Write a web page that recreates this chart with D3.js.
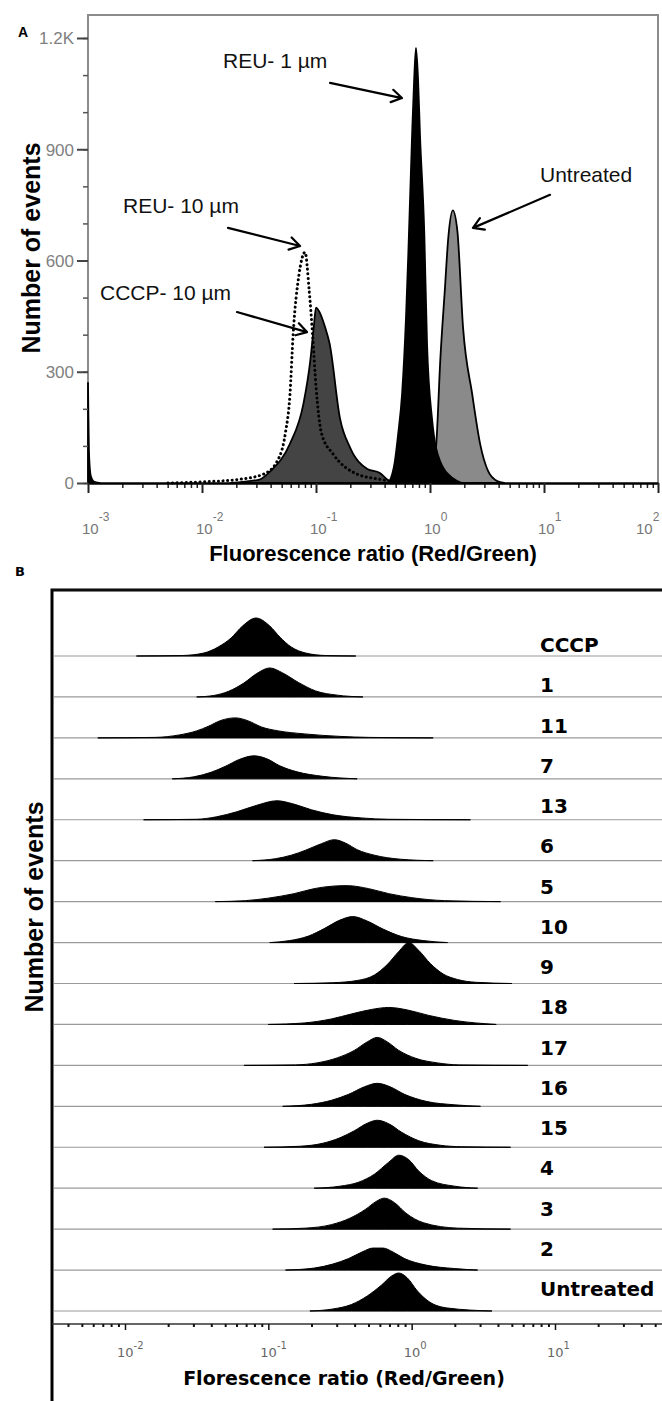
<!DOCTYPE html>
<html>
<head>
<meta charset="utf-8">
<script src="https://cdn.jsdelivr.net/npm/d3@7"></script>
<style>
body { margin: 0; background: #fff; }
svg { display: block; }
</style>
</head>
<body>
<svg id="fig" width="662" height="1401"></svg>
<script>
// ---- panel A: histograms, [log10 ratio, number of events]
const debrisA = [[-3, 270], [-2.99, 70], [-2.975, 18], [-2.95, 4], [-2.9, 0]]
const reu10A = [[-2.3, 0], [-2.0, 3], [-1.67, 10], [-1.46, 24], [-1.34, 59], [-1.27, 132], [-1.228, 240],
    [-1.2, 403], [-1.15, 560], [-1.096, 622], [-1.06, 520], [-1.03, 400], [-1.0, 260], [-0.95, 132],
    [-0.85, 78], [-0.64, 24], [-0.44, 10], [-0.3, 3], [-0.1, 0]]
const cccpA = [[-1.75, 0], [-1.49, 10], [-1.4, 32], [-1.23, 105], [-1.11, 214], [-1.05, 330], [-1.02, 419],
    [-1.0, 473], [-0.96, 455], [-0.92, 420], [-0.88, 375], [-0.79, 175], [-0.70, 95], [-0.55, 38],
    [-0.44, 27], [-0.37, 8], [-0.3, 0]]
const untreatedA = [[-0.02, 0], [0.03, 20], [0.06, 130], [0.09, 330], [0.13, 520], [0.16, 660], [0.2, 735],
    [0.24, 680], [0.29, 419], [0.37, 240], [0.44, 105], [0.51, 32], [0.59, 5], [0.65, 0]]
const reu1A = [[-0.36, 0], [-0.31, 55], [-0.28, 130], [-0.245, 240], [-0.21, 450], [-0.19, 620], [-0.158, 930],
    [-0.14, 1080], [-0.123, 1173], [-0.105, 1090], [-0.088, 940], [-0.05, 673], [-0.026, 375],
    [0.017, 175], [0.088, 59], [0.2, 13], [0.28, 0]]
const yTicksA = [0, 300, 600, 900, 1200]
const decadesA = [-3, -2, -1, 0, 1, 2]

// ---- panel B: one histogram per treatment, [log10 ratio, events]
const rowNames = ["CCCP", "1", "11", "7", "13", "6", "5", "10", "9", "18", "17", "16", "15", "4", "3", "2", "Untreated"]
const rowCurves = [
    [[-1.92, 0], [-1.6, 5], [-1.45, 30], [-1.35, 90], [-1.26, 180], [-1.18, 300], [-1.086, 380], [-0.99, 300], [-0.92, 190], [-0.84, 90], [-0.74, 30], [-0.6, 5], [-0.39, 0]],
    [[-1.50, 0], [-1.38, 15], [-1.28, 55], [-1.17, 140], [-1.08, 235], [-0.99, 290], [-0.90, 240], [-0.79, 145], [-0.67, 60], [-0.52, 18], [-0.34, 0]],
    [[-2.19, 0], [-1.79, 5], [-1.62, 30], [-1.50, 70], [-1.42, 115], [-1.33, 175], [-1.23, 200], [-1.14, 170], [-1.05, 110], [-0.93, 70], [-0.75, 40], [-0.5, 15], [-0.3, 5], [0.15, 0]],
    [[-1.67, 0], [-1.52, 20], [-1.40, 65], [-1.30, 125], [-1.20, 195], [-1.10, 230], [-1.01, 200], [-0.92, 130], [-0.80, 70], [-0.62, 25], [-0.38, 0]],
    [[-1.87, 0], [-1.50, 5], [-1.36, 30], [-1.22, 80], [-1.08, 145], [-0.94, 190], [-0.83, 160], [-0.70, 100], [-0.55, 50], [-0.35, 18], [-0.16, 5], [0.41, 0]],
    [[-1.11, 0], [-0.95, 20], [-0.84, 55], [-0.74, 105], [-0.63, 170], [-0.54, 210], [-0.46, 175], [-0.38, 110], [-0.26, 55], [-0.08, 15], [0.15, 0]],
    [[-1.37, 0], [-1.16, 10], [-1.00, 35], [-0.82, 80], [-0.68, 130], [-0.55, 155], [-0.45, 160], [-0.30, 130], [-0.16, 80], [0.0, 40], [0.23, 10], [0.62, 0]],
    [[-0.99, 0], [-0.85, 20], [-0.72, 65], [-0.61, 140], [-0.50, 225], [-0.41, 260], [-0.31, 215], [-0.20, 135], [-0.07, 60], [0.08, 20], [0.25, 0]],
    [[-0.82, 0], [-0.55, 8], [-0.38, 30], [-0.26, 85], [-0.17, 190], [-0.09, 320], [-0.02, 410], [0.05, 330], [0.13, 200], [0.22, 95], [0.32, 40], [0.45, 12], [0.70, 0]],
    [[-1.00, 0], [-0.75, 15], [-0.56, 55], [-0.42, 105], [-0.28, 150], [-0.16, 170], [-0.03, 145], [0.12, 90], [0.30, 40], [0.59, 0]],
    [[-1.17, 0], [-0.81, 5], [-0.66, 25], [-0.52, 75], [-0.40, 150], [-0.31, 235], [-0.24, 280], [-0.17, 235], [-0.09, 150], [0.03, 70], [0.18, 25], [0.33, 5], [0.81, 0]],
    [[-0.90, 0], [-0.70, 20], [-0.56, 60], [-0.44, 120], [-0.33, 195], [-0.24, 230], [-0.15, 195], [-0.05, 120], [0.10, 50], [0.30, 15], [0.48, 0]],
    [[-1.03, 0], [-0.78, 10], [-0.62, 40], [-0.50, 95], [-0.40, 165], [-0.31, 240], [-0.24, 270], [-0.16, 235], [-0.07, 150], [0.05, 65], [0.20, 20], [0.35, 5], [0.69, 0]],
    [[-0.68, 0], [-0.50, 20], [-0.37, 60], [-0.26, 140], [-0.16, 260], [-0.09, 330], [-0.02, 285], [0.05, 170], [0.14, 75], [0.30, 20], [0.46, 0]],
    [[-0.97, 0], [-0.74, 10], [-0.56, 45], [-0.43, 110], [-0.32, 200], [-0.25, 275], [-0.19, 310], [-0.12, 265], [-0.04, 160], [0.08, 65], [0.32, 10], [0.69, 0]],
    [[-0.88, 0], [-0.68, 20], [-0.55, 60], [-0.44, 115], [-0.34, 185], [-0.27, 220], [-0.20, 220], [-0.13, 180], [-0.05, 115], [0.10, 50], [0.30, 15], [0.46, 0]],
    [[-0.71, 0], [-0.55, 20], [-0.42, 65], [-0.31, 150], [-0.21, 260], [-0.14, 350], [-0.09, 380], [-0.03, 330], [0.04, 200], [0.12, 95], [0.25, 30], [0.56, 0]]
]
const decadesB = [-2, -1, 0, 1]

const svg = d3.select("#fig")
const pow10 = (e) => Math.pow(10, e)
const supText = (d) => d < 0 ? "-" + (-d) : "" + d

// ================= panel A =================
const xA = d3.scaleLog().domain([1e-3, 1e2]).range([88, 658])
const yA = d3.scaleLinear().domain([0, 1200]).range([483, 38])

var areaA = d3.area()
    .x((d) => xA(pow10(d[0])))
    .y0(yA(0))
    .y1((d) => yA(d[1]))
    .curve(d3.curveMonotoneX)

var lineA = d3.line()
    .x((d) => xA(pow10(d[0])))
    .y((d) => yA(d[1]))
    .curve(d3.curveMonotoneX)

// frame
svg.append("path")
    .attr("d", "M88,483V15H658V483")
    .attr("fill", "none")
    .attr("stroke", "#8c8c8c")
    .attr("stroke-width", 2)

var fills = [
    {pts: debrisA, fill: "#000"},
    {pts: cccpA, fill: "#444"},
    {pts: untreatedA, fill: "#8a8a8a"},
    {pts: reu1A, fill: "#000"}
]
svg.selectAll("path.histA")
    .data(fills)
    .join("path")
    .classed("histA", true)
    .attr("d", (d) => areaA(d.pts))
    .attr("fill", (d) => d.fill)
    .attr("stroke", "#000")
    .attr("stroke-width", 1.8)
    .attr("stroke-linejoin", "round")

svg.append("path")
    .attr("d", lineA(reu10A))
    .attr("fill", "none")
    .attr("stroke", "#000")
    .attr("stroke-width", 3)
    .attr("stroke-linecap", "round")
    .attr("stroke-dasharray", "0.1,4.5")

// y axis
var minorY = d3.range(0, 1201, 100)
svg.append("g")
    .attr("transform", "translate(88,0)")
    .call(d3.axisLeft(yA).tickValues(minorY).tickSize(5).tickSizeOuter(0).tickFormat(""))
    .call((g) => g.select(".domain").remove())
    .selectAll("line").attr("stroke", "#555").attr("stroke-width", 1.5)

var yAxisA = svg.append("g")
    .attr("transform", "translate(88,0)")
    .call(d3.axisLeft(yA).tickValues(yTicksA).tickSize(11).tickSizeOuter(0)
        .tickFormat((d) => d >= 1000 ? (d / 1000).toFixed(1) + "K" : d))
yAxisA.select(".domain").remove()
yAxisA.selectAll("line").attr("stroke", "#444").attr("stroke-width", 2)
yAxisA.selectAll("text")
    .attr("font-family", "Liberation Sans, Arial, sans-serif")
    .attr("font-size", 17)
    .attr("fill", "#808080")
    .attr("x", -14)
    .attr("dy", "0.35em")

// x axis
var minorX = []
decadesA.slice(0, -1).forEach((e) => {
    for (let k = 2; k < 10; k++) minorX.push(k * pow10(e))
})
svg.append("g")
    .attr("transform", "translate(0,483)")
    .call(d3.axisBottom(xA).tickValues(minorX).tickSize(5).tickSizeOuter(0).tickFormat(""))
    .call((g) => g.select(".domain").remove())
    .selectAll("line").attr("stroke", "#222").attr("stroke-width", 1.5)
svg.append("g")
    .attr("transform", "translate(0,483)")
    .call(d3.axisBottom(xA).tickValues(decadesA.map(pow10)).tickSize(10).tickSizeOuter(0).tickFormat(""))
    .call((g) => g.select(".domain").attr("stroke", "#000").attr("stroke-width", 2.5))
    .selectAll("line").attr("stroke", "#222").attr("stroke-width", 2)

var tickLabA = svg.selectAll("text.xlabA")
    .data(decadesA)
    .join("text")
    .classed("xlabA", true)
    .attr("x", (d) => Math.min(xA(pow10(d)) - 6, 636))
    .attr("y", 534)
    .attr("font-family", "Liberation Sans, Arial, sans-serif")
    .attr("font-size", 15)
    .attr("fill", "#777")
tickLabA.append("tspan").text("10")
tickLabA.append("tspan").attr("dy", -13).attr("font-size", 12).text(supText)

svg.append("text")
    .attr("x", 373)
    .attr("y", 561)
    .attr("text-anchor", "middle")
    .attr("font-family", "Liberation Sans, Arial, sans-serif")
    .attr("font-weight", "bold")
    .attr("font-size", 22)
    .text("Fluorescence ratio (Red/Green)")

svg.append("text")
    .attr("transform", "translate(40,248) rotate(-90)")
    .attr("text-anchor", "middle")
    .attr("font-family", "Liberation Sans, Arial, sans-serif")
    .attr("font-weight", "bold")
    .attr("font-size", 25)
    .text("Number of events")

svg.append("text")
    .attr("x", 18).attr("y", 37)
    .attr("font-family", "Liberation Sans, Arial, sans-serif")
    .attr("font-weight", "bold")
    .attr("font-size", 14)
    .text("A")

// annotations, placed in data coordinates: text at t, arrow from a to b
var notes = [
    {label: "REU- 1 \u00b5m", t: [-1.816, 1119], a: [-0.877, 1079], b: [-0.246, 1038]},
    {label: "Untreated", t: [0.965, 812], a: [1.053, 777], b: [0.377, 688]},
    {label: "REU- 10 \u00b5m", t: [-2.693, 728], a: [-1.772, 688], b: [-1.14, 639]},
    {label: "CCCP- 10 \u00b5m", t: [-2.895, 494], a: [-1.693, 461], b: [-1.079, 407]}
]
var px = (p) => [xA(pow10(p[0])), yA(p[1])]
var arrowPath = function(d) {
    const [x1, y1] = px(d.a)
    const [x2, y2] = px(d.b)
    const ang = Math.atan2(y2 - y1, x2 - x1)
    const L = 12, w = 0.55
    return "M" + x1 + "," + y1 + "L" + x2 + "," + y2 +
        "M" + (x2 - L * Math.cos(ang - w)) + "," + (y2 - L * Math.sin(ang - w)) +
        "L" + x2 + "," + y2 +
        "L" + (x2 - L * Math.cos(ang + w)) + "," + (y2 - L * Math.sin(ang + w))
}
svg.selectAll("text.note")
    .data(notes)
    .join("text")
    .classed("note", true)
    .attr("x", (d) => px(d.t)[0])
    .attr("y", (d) => px(d.t)[1])
    .attr("font-family", "Liberation Sans, Arial, sans-serif")
    .attr("font-size", 21)
    .attr("fill", "#111")
    .text((d) => d.label)
svg.selectAll("path.arrow")
    .data(notes)
    .join("path")
    .classed("arrow", true)
    .attr("d", arrowPath)
    .attr("fill", "none")
    .attr("stroke", "#000")
    .attr("stroke-width", 2.2)
    .attr("stroke-linecap", "round")
    .attr("stroke-linejoin", "round")

// ================= panel B =================
const xB = d3.scaleLog().domain([1e-2, 1e1]).range([125, 555])
const baseB = d3.scalePoint().domain(rowNames).range([656, 1311])
const labelB = d3.scalePoint().domain(rowNames).range([652, 1296])
const hB = d3.scaleLinear().domain([0, 410]).range([0, 41])
const leftB = 52, rightB = 662, axisY = 1324

svg.append("path")
    .attr("d", "M" + rightB + ",590H" + leftB + "V1401")
    .attr("fill", "none")
    .attr("stroke", "#000")
    .attr("stroke-width", 3)
svg.append("line")
    .attr("x1", leftB).attr("x2", rightB).attr("y1", 590).attr("y2", 590)
    .attr("stroke", "#111").attr("stroke-width", 1.5)

var rows = svg.selectAll("g.row")
    .data(rowNames.map((name, i) => ({name: name, pts: rowCurves[i]})))
    .join("g")
    .classed("row", true)

rows.append("line")
    .attr("x1", leftB + 2).attr("x2", rightB)
    .attr("y1", (d) => baseB(d.name)).attr("y2", (d) => baseB(d.name))
    .attr("stroke", "#9a9a9a").attr("stroke-width", 1.2)

rows.append("path")
    .attr("d", (d) => {
        const base = baseB(d.name)
        return d3.area()
            .x((p) => xB(pow10(p[0])))
            .y0(base)
            .y1((p) => base - hB(p[1]))
            .curve(d3.curveMonotoneX)(d.pts)
    })
    .attr("fill", "#000")
    .attr("stroke", "#000")
    .attr("stroke-width", 1)

rows.append("text")
    .attr("x", 540)
    .attr("y", (d) => labelB(d.name))
    .attr("font-family", "DejaVu Sans, Verdana, sans-serif")
    .attr("font-weight", "bold")
    .attr("font-size", 20)
    .text((d) => d.name)

// x axis B
svg.append("line")
    .attr("x1", leftB).attr("x2", rightB).attr("y1", axisY).attr("y2", axisY)
    .attr("stroke", "#333").attr("stroke-width", 1.5)

var lo = xB.invert(leftB + 4), hi = xB.invert(rightB - 2)
var minorB = []
for (let e = -3; e <= 1; e++) {
    for (let k = 2; k < 10; k++) {
        const v = k * pow10(e)
        if (v > lo && v < hi) minorB.push(v)
    }
}
svg.append("g")
    .attr("transform", "translate(0," + axisY + ")")
    .call(d3.axisBottom(xB).tickValues(minorB).tickSize(3).tickSizeOuter(0).tickFormat(""))
    .call((g) => g.select(".domain").remove())
    .selectAll("line").attr("stroke", "#111").attr("stroke-width", 2)
svg.append("g")
    .attr("transform", "translate(0," + axisY + ")")
    .call(d3.axisBottom(xB).tickValues(decadesB.map(pow10)).tickSize(6).tickSizeOuter(0).tickFormat(""))
    .call((g) => g.select(".domain").remove())
    .selectAll("line").attr("stroke", "#111").attr("stroke-width", 1.5)

var tickLabB = svg.selectAll("text.xlabB")
    .data(decadesB)
    .join("text")
    .classed("xlabB", true)
    .attr("x", (d) => xB(pow10(d)) - 8)
    .attr("y", 1357)
    .attr("font-family", "DejaVu Sans, sans-serif")
    .attr("font-size", 13)
    .attr("fill", "#666")
tickLabB.append("tspan").text("10")
tickLabB.append("tspan").attr("dy", -8).attr("font-size", 10).text(supText)

svg.append("text")
    .attr("x", 344)
    .attr("y", 1385)
    .attr("text-anchor", "middle")
    .attr("font-family", "DejaVu Sans, Verdana, sans-serif")
    .attr("font-weight", "bold")
    .attr("font-size", 19)
    .text("Florescence ratio (Red/Green)")

svg.append("text")
    .attr("transform", "translate(43,907) rotate(-90)")
    .attr("text-anchor", "middle")
    .attr("font-family", "Liberation Sans, Arial, sans-serif")
    .attr("font-weight", "bold")
    .attr("font-size", 25)
    .text("Number of events")

svg.append("text")
    .attr("x", 15).attr("y", 576)
    .attr("font-family", "DejaVu Sans, sans-serif")
    .attr("font-weight", "bold")
    .attr("font-size", 13)
    .text("B")
</script>
</body>
</html>
